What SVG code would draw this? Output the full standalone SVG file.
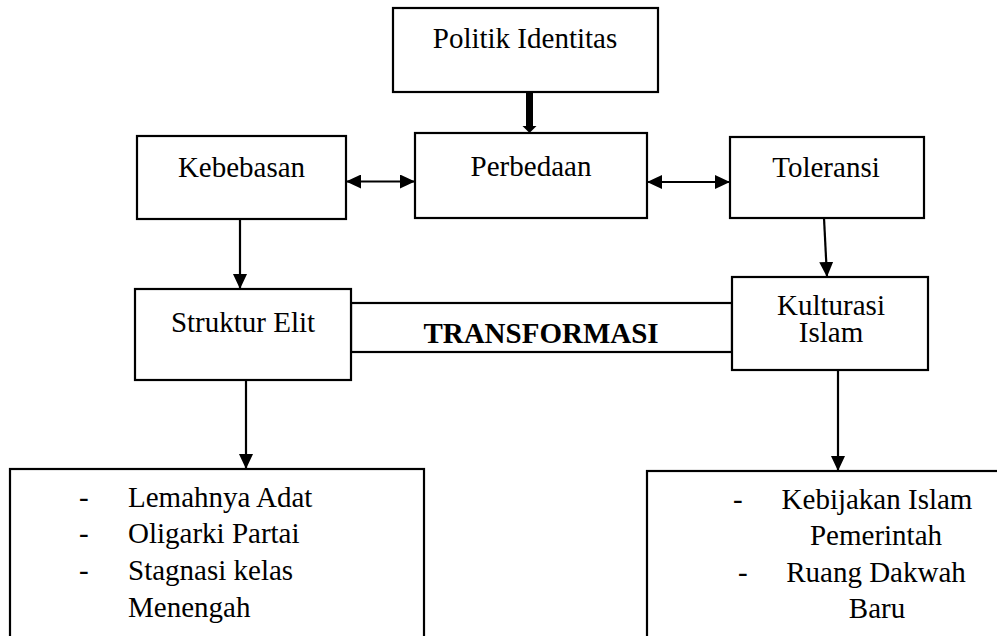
<svg xmlns="http://www.w3.org/2000/svg" width="997" height="636" viewBox="0 0 997 636">
<defs>
<style>
.box{fill:#fff;stroke:#000;stroke-width:2.2}
.t{font-family:'Liberation Serif','Times New Roman',serif;font-size:29px;fill:#000}
.c{text-anchor:middle}
.b{font-weight:bold}
.ln{stroke:#000;stroke-width:2.2;fill:none}
</style>
<marker id="ah" markerUnits="userSpaceOnUse" markerWidth="15" markerHeight="14" refX="15" refY="7" orient="auto-start-reverse">
<path d="M0,0 L15,7 L0,14 z" fill="#000"/>
</marker>
</defs>
<rect width="997" height="636" fill="#fff"/>
<g id="transformasi">
<rect class="box" x="351" y="303" width="381" height="49"/>
<text class="t c b" x="541" y="343">TRANSFORMASI</text>
</g>
<g id="politik">
<rect class="box" x="393" y="8" width="265" height="84"/>
<text class="t c" x="525" y="48">Politik Identitas</text>
</g>
<g id="perbedaan">
<rect class="box" x="415" y="133" width="232" height="85"/>
<text class="t c" x="531" y="176">Perbedaan</text>
</g>
<g id="kebebasan">
<rect class="box" x="137" y="136" width="209" height="83"/>
<text class="t c" x="241.5" y="177">Kebebasan</text>
</g>
<g id="toleransi">
<rect class="box" x="730" y="137" width="194" height="81"/>
<text class="t c" x="826" y="177">Toleransi</text>
</g>
<g id="struktur">
<rect class="box" x="135" y="289" width="216" height="91"/>
<text class="t c" x="243" y="332">Struktur Elit</text>
</g>
<g id="kulturasi">
<rect class="box" x="732" y="277" width="196" height="93"/>
<text class="t c" x="831" y="315">Kulturasi</text>
<text class="t c" x="831" y="342">Islam</text>
</g>
<g id="dampak-kiri">
<rect class="box" x="10" y="469" width="414" height="180"/>
<text class="t" x="79" y="507">-</text>
<text class="t" x="128" y="507">Lemahnya Adat</text>
<text class="t" x="79" y="543">-</text>
<text class="t" x="128" y="543">Oligarki Partai</text>
<text class="t" x="79" y="580">-</text>
<text class="t" x="128" y="580">Stagnasi kelas</text>
<text class="t" x="128" y="617">Menengah</text>
</g>
<g id="dampak-kanan">
<rect class="box" x="647" y="471" width="360" height="180"/>
<text class="t" x="733" y="509">-</text>
<text class="t c" x="877" y="509">Kebijakan Islam</text>
<text class="t c" x="876" y="545">Pemerintah</text>
<text class="t" x="738" y="582">-</text>
<text class="t c" x="876" y="582">Ruang Dakwah</text>
<text class="t c" x="877" y="618">Baru</text>
</g>
<g id="connectors">
<line x1="529.5" y1="92" x2="529.5" y2="127" stroke="#000" stroke-width="7"/>
<path d="M522.5,126 L536.5,126 L529.5,133 z" fill="#000"/>
<line class="ln" x1="346" y1="181.5" x2="415" y2="181.5" marker-start="url(#ah)" marker-end="url(#ah)"/>
<line class="ln" x1="647" y1="182" x2="730" y2="182" marker-start="url(#ah)" marker-end="url(#ah)"/>
<line class="ln" x1="240" y1="219" x2="240" y2="289" marker-end="url(#ah)"/>
<line class="ln" x1="824" y1="218" x2="827" y2="277" marker-end="url(#ah)"/>
<line class="ln" x1="246" y1="380" x2="246" y2="469" marker-end="url(#ah)"/>
<line class="ln" x1="838" y1="370" x2="838" y2="471" marker-end="url(#ah)"/>
</g>
</svg>
